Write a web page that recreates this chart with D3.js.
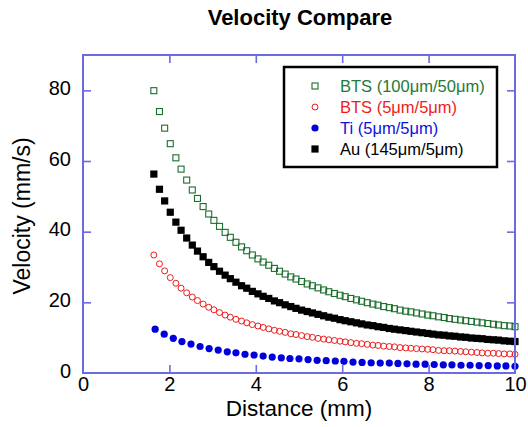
<!DOCTYPE html>
<html><head><meta charset="utf-8">
<script src="https://cdn.jsdelivr.net/npm/d3@7"></script>
<style>body{margin:0;background:#fff}svg{display:block}</style>
</head><body>
<script>
// ---- data ----
const xMain = [1.64,1.77,1.89,2.02,2.15,2.27,2.40,2.53,2.65,2.78,2.91,3.03,3.16,3.29,3.41,3.54,3.67,3.79,3.92,4.05,4.17,4.30,4.43,4.55,4.68,4.81,4.93,5.06,5.19,5.31,5.44,5.57,5.69,5.82,5.95,6.07,6.20,6.33,6.45,6.58,6.71,6.83,6.96,7.09,7.21,7.34,7.47,7.59,7.72,7.85,7.98,8.10,8.23,8.36,8.48,8.61,8.74,8.86,8.99,9.12,9.24,9.37,9.50,9.62,9.75,9.88,10.00];
const btsThick = [79.9,74.0,69.3,64.9,60.9,57.7,54.6,51.8,49.4,47.1,45.0,43.2,41.5,39.8,38.4,37.0,35.7,34.6,33.4,32.3,31.4,30.5,29.6,28.8,28.0,27.2,26.6,25.9,25.2,24.7,24.1,23.5,23.0,22.5,22.0,21.6,21.1,20.7,20.3,19.9,19.5,19.2,18.8,18.5,18.2,17.8,17.5,17.3,17.0,16.7,16.4,16.2,15.9,15.7,15.4,15.2,15.0,14.8,14.6,14.4,14.2,14.0,13.8,13.6,13.4,13.3,13.1];
const btsThin = [33.4,30.9,28.9,27.0,25.4,24.0,22.7,21.5,20.5,19.5,18.6,17.9,17.1,16.4,15.8,15.2,14.7,14.2,13.7,13.3,12.9,12.5,12.1,11.8,11.5,11.1,10.9,10.6,10.3,10.1,9.8,9.6,9.4,9.2,9.0,8.8,8.6,8.4,8.3,8.1,7.9,7.8,7.6,7.5,7.4,7.2,7.1,7.0,6.9,6.8,6.7,6.6,6.4,6.3,6.3,6.2,6.1,6.0,5.9,5.8,5.7,5.6,5.6,5.5,5.4,5.4,5.3];
const auVals = [56.3,52.0,48.7,45.5,42.7,40.4,38.2,36.2,34.5,32.9,31.3,30.1,28.8,27.7,26.7,25.7,24.7,24.0,23.1,22.4,21.7,21.1,20.4,19.9,19.3,18.8,18.3,17.8,17.4,17.0,16.6,16.2,15.8,15.5,15.1,14.8,14.5,14.2,13.9,13.6,13.4,13.1,12.9,12.6,12.4,12.2,12.0,11.8,11.6,11.4,11.2,11.0,10.8,10.7,10.5,10.4,10.2,10.1,9.9,9.8,9.7,9.5,9.4,9.3,9.1,9.0,8.9];
const xTi = [1.67,1.88,2.09,2.29,2.50,2.71,2.92,3.13,3.34,3.54,3.75,3.96,4.17,4.38,4.59,4.79,5.00,5.21,5.42,5.63,5.84,6.04,6.25,6.46,6.67,6.88,7.09,7.29,7.50,7.71,7.92,8.13,8.34,8.54,8.75,8.96,9.17,9.38,9.59,9.79,10.00];
const tiVals = [12.4,11.0,9.8,8.9,8.2,7.5,6.9,6.5,6.0,5.7,5.3,5.1,4.8,4.5,4.3,4.1,4.0,3.8,3.6,3.5,3.4,3.3,3.1,3.0,2.9,2.8,2.8,2.7,2.6,2.5,2.5,2.4,2.3,2.3,2.2,2.2,2.1,2.1,2.0,2.0,1.9];
const seriesNames = ["BTS (100μm/50μm)","BTS (5μm/5μm)","Ti (5μm/5μm)","Au (145μm/5μm)"];
const xTicks = [0,2,4,6,8,10];
const yTicks = [0,20,40,60,80];
const titleText = "Velocity Compare";
const xTitle = "Distance (mm)";
const yTitle = "Velocity (mm/s)";

// ---- drawing ----
const W = 528, H = 427;
const M = {left:83, right:515, top:55, bottom:373};
const axisColor = "#6a6ae2";
const font = "'Liberation Sans', Arial, sans-serif";

const svg = d3.select("body").append("svg").attr("width",W).attr("height",H)
  .style("font-family",font);

const x = d3.scaleLinear().domain([0,10]).range([M.left,M.right]);
const y = d3.scaleLinear().domain([0,90]).range([M.bottom,M.top]);

const styles = [
  {name:seriesNames[0], xs:xMain, ys:btsThick, shape:"sq", fill:"none", stroke:"#1b6e2c", text:"#237a36"},
  {name:seriesNames[1], xs:xMain, ys:btsThin, shape:"ci", fill:"none", stroke:"#ee1c1c", text:"#ee1c1c"},
  {name:seriesNames[2], xs:xTi, ys:tiVals, shape:"dot", fill:"#0000dd", stroke:"none", text:"#1010dd"},
  {name:seriesNames[3], xs:xMain, ys:auVals, shape:"fsq", fill:"#000", stroke:"none", text:"#000"}
];

function drawMarker(g, s, cx, cy){
  if(s.shape==="sq") g.append("rect").attr("x",cx-3).attr("y",cy-3).attr("width",6).attr("height",6)
      .attr("fill","none").attr("stroke",s.stroke).attr("stroke-width",1.1);
  else if(s.shape==="ci") g.append("circle").attr("cx",cx).attr("cy",cy).attr("r",3)
      .attr("fill","none").attr("stroke",s.stroke).attr("stroke-width",1);
  else if(s.shape==="dot") g.append("circle").attr("cx",cx).attr("cy",cy).attr("r",3.6).attr("fill",s.fill);
  else g.append("rect").attr("x",cx-3.6).attr("y",cy-3.6).attr("width",7.2).attr("height",7.2).attr("fill",s.fill);
}

// draw order: Ti, BTS thin, Au, BTS thick
const order = [2,1,3,0];
order.forEach(i=>{
  const s = styles[i];
  const g = svg.append("g");
  s.ys.forEach((v,k)=>drawMarker(g, s, x(s.xs[k]), y(v)));
});

// axes (ticks inward)
const axB = svg.append("g").attr("transform",`translate(0,${M.bottom})`)
  .call(d3.axisBottom(x).tickValues(xTicks).tickFormat(d3.format("d")).tickSize(-8).tickPadding(4));
const axL = svg.append("g").attr("transform",`translate(${M.left},0)`)
  .call(d3.axisLeft(y).tickValues(yTicks).tickFormat(d3.format("d")).tickSize(-8).tickPadding(12));
const axT = svg.append("g").attr("transform",`translate(0,${M.top})`)
  .call(d3.axisTop(x).tickValues(xTicks).tickFormat("").tickSize(-8));
const axR = svg.append("g").attr("transform",`translate(${M.right},0)`)
  .call(d3.axisRight(y).tickValues(yTicks).tickFormat("").tickSize(-8));
[axB,axL,axT,axR].forEach(a=>{
  a.select(".domain").remove();
  a.selectAll(".tick line").attr("stroke",axisColor).attr("stroke-width",1.6);
  a.selectAll(".tick text").attr("fill","#000").style("font-size","20px").style("font-family",font);
});
axL.selectAll(".tick text").attr("dy","0.2em");
axB.selectAll(".tick").filter(d=>d===0||d===10).select("line").remove();
axT.selectAll(".tick").filter(d=>d===0||d===10).select("line").remove();
axL.selectAll(".tick").filter(d=>d===0).select("line").remove();
axR.selectAll(".tick").filter(d=>d===0).select("line").remove();

svg.append("rect").attr("x",M.left).attr("y",M.top).attr("width",M.right-M.left).attr("height",M.bottom-M.top)
  .attr("fill","none").attr("stroke",axisColor).attr("stroke-width",2);

// titles
svg.append("text").attr("x",(M.left+M.right)/2 + 1).attr("y",25).attr("text-anchor","middle")
  .style("font-size","22px").style("font-weight","bold").text(titleText);
svg.append("text").attr("x",(M.left+M.right)/2).attr("y",416).attr("text-anchor","middle")
  .style("font-size","22.5px").text(xTitle);
svg.append("text").attr("transform",`translate(30,${(M.top+M.bottom)/2 + 2}) rotate(-90)`).attr("text-anchor","middle")
  .style("font-size","23px").text(yTitle);

// legend
const lg = svg.append("g");
lg.append("rect").attr("x",284).attr("y",67).attr("width",213).attr("height",100)
  .attr("fill","#fff").attr("stroke","#000").attr("stroke-width",2.5);
const rowY = [86,107,128,149];
styles.forEach((s,i)=>{
  drawMarker(lg, s, 315, rowY[i]);
  lg.append("text").attr("x",340).attr("y",rowY[i]).attr("dy","0.36em")
    .attr("fill",s.text).style("font-size","16.5px").text(s.name);
});
</script>
</body></html>
